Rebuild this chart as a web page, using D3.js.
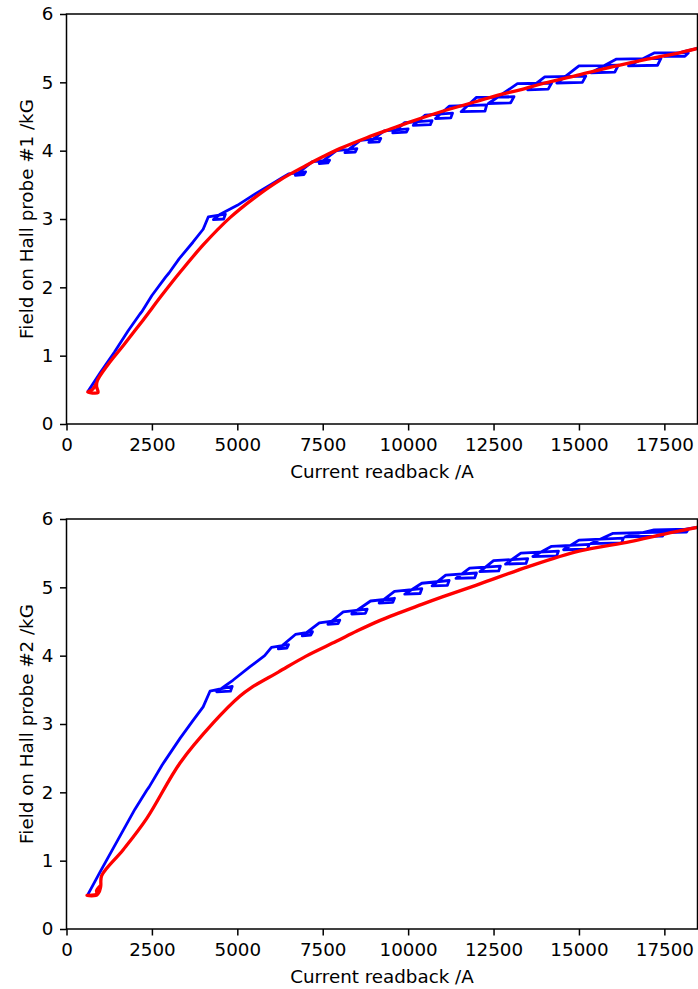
<!DOCTYPE html>
<html>
<head>
<meta charset="utf-8">
<script src="https://cdn.jsdelivr.net/npm/d3@7"></script>
<style>
  body { margin: 0; background: #fff; }
  text { font-family: "DejaVu Sans", sans-serif; }
</style>
</head>
<body>
<div id="canvas"></div>
<script>
// ticks and labels
const xTicks = [0, 2500, 5000, 7500, 10000, 12500, 15000, 17500];
const yTicks = [0, 1, 2, 3, 4, 5, 6];
const xLabel = 'Current readback /A';
const yLabels = ['Field on Hall probe #1 /kG', 'Field on Hall probe #2 /kG'];

// [current A, field kG]
const probe1Up = [
  [620,0.47],[1000,0.76],[1400,1.05],[1800,1.36],[2150,1.61],[2200,1.64],[2500,1.88],
  [2900,2.15],[3000,2.21],[3300,2.42],[3700,2.66],[4000,2.85],[4150,3.03],[4650,3.07],
  [4600,3.0],[4300,2.99],[4500,3.07],[5000,3.2],[5500,3.36],[6000,3.51],[6300,3.6],
  [6500,3.66],[7000,3.69],[6950,3.65],[6700,3.64],
  [7200,3.84],[7700,3.86],[7650,3.82],[7400,3.81],
  [7900,4.0],[8500,4.03],[8450,3.98],[8150,3.97],
  [8600,4.15],[9200,4.18],[9150,4.13],[8850,4.12],
  [9300,4.29],[10000,4.32],[9950,4.27],[9550,4.26],
  [9900,4.41],[10700,4.44],[10650,4.38],[10150,4.37],
  [10500,4.52],[11300,4.55],[11250,4.48],[10800,4.47],
  [11200,4.65],[12300,4.67],[12250,4.58],[11550,4.57],
  [12000,4.78],[13100,4.79],[13000,4.7],[12350,4.69],
  [13200,4.98],[14200,4.99],[14100,4.9],[13500,4.89],
  [14000,5.08],[15200,5.09],[15100,5.0],[14350,4.99],
  [15000,5.24],[16150,5.25],[16050,5.15],[15350,5.14],
  [16100,5.34],[17400,5.35],[17300,5.25],[16450,5.24],
  [17200,5.43],[18200,5.43],[18100,5.38],[17500,5.38],
  [18500,5.5]
];
const probe1Down = [
  [18500,5.5],[18000,5.44],[17000,5.34],[16000,5.23],[15000,5.11],[14000,4.99],[13276,4.89],
  [12690,4.82],[12000,4.72],[11030,4.58],[10000,4.41],[9500,4.32],[8788,4.19],[8000,4.03],
  [7500,3.91],[7000,3.78],[6250,3.57],[5500,3.31],[4786,3.02],[4000,2.62],[3323,2.22],[2800,1.89],
  [2240,1.52],[1663,1.15],[1200,0.86],[900,0.63],[880,0.55],[920,0.46],[620,0.47],[750,0.5],[880,0.6]
];
const probe2Up = [
  [620,0.5],[1000,0.85],[1500,1.3],[2000,1.75],[2350,2.03],[2420,2.08],[2800,2.4],
  [2880,2.46],[3323,2.79],[3700,3.05],[4000,3.25],[4200,3.48],[4850,3.55],[4800,3.48],
  [4400,3.47],[4650,3.56],[4870,3.64],[5373,3.84],[5800,4.0],
  [6000,4.12],[6500,4.16],[6450,4.11],[6200,4.1],
  [6700,4.31],[7200,4.35],[7150,4.3],[6900,4.29],
  [7400,4.48],[8000,4.52],[7950,4.47],[7650,4.46],
  [8100,4.64],[8800,4.68],[8750,4.62],[8350,4.61],
  [8900,4.8],[9600,4.84],[9550,4.78],[9150,4.77],
  [9600,4.94],[10400,4.98],[10350,4.91],[9900,4.9],
  [10400,5.06],[11200,5.1],[11150,5.03],[10700,5.02],
  [11100,5.18],[12000,5.21],[11950,5.14],[11400,5.13],
  [11800,5.28],[12700,5.31],[12650,5.24],[12100,5.23],
  [12500,5.39],[13500,5.42],[13450,5.35],[12850,5.34],
  [13300,5.5],[14400,5.53],[14350,5.46],[13650,5.45],
  [14200,5.6],[15300,5.63],[15250,5.56],[14550,5.55],
  [15000,5.69],[16300,5.72],[16250,5.65],[15350,5.64],
  [16000,5.79],[17500,5.81],[17450,5.75],[16350,5.74],
  [17200,5.84],[18200,5.85],[18150,5.81],[17500,5.8],
  [18500,5.88]
];
const probe2Down = [
  [18500,5.88],[17500,5.78],[16500,5.67],[15000,5.53],[13500,5.3],[12100,5.05],[11000,4.86],
  [10400,4.75],[9200,4.52],[8500,4.36],[7900,4.21],[7000,3.99],[6200,3.76],[5400,3.53],[5080,3.41],
  [4300,3.02],[3323,2.43],[2350,1.62],[1660,1.16],[1030,0.78],[1000,0.62],[930,0.52],[600,0.49],
  [900,0.5],[880,0.56],[1020,0.65]
];

const W = 698, H = 989;
const left = 66.5, right = 697.5, panelH = 410;
const fs = 18.3, tick = 6.5;

const Svg = d3.select('#canvas').append('svg')
  .attr('width', W)
  .attr('height', H);

const xScale = d3.scaleLinear()
  .domain([0, 18470])
  .range([left, right]);

const panel = (top, up, down, label, id) => {
  const yScale = d3.scaleLinear()
    .domain([0, 6])
    .range([top + panelH, top]);

  Svg.append('clipPath').attr('id', 'clip' + id)
    .append('rect')
    .attr('x', left).attr('y', top)
    .attr('width', right - left).attr('height', panelH);

  const line = d3.line()
    .x(d => xScale(d[0]))
    .y(d => yScale(d[1]));

  const g = Svg.append('g').attr('clip-path', `url(#clip${id})`);
  g.append('path').datum(up)
    .attr('d', line)
    .attr('fill', 'none')
    .attr('stroke', '#0000ff')
    .attr('stroke-width', 2.8)
    .attr('stroke-linejoin', 'round');
  // the down ramp is smooth
  g.append('path').datum(down)
    .attr('d', line.curve(d3.curveCatmullRom.alpha(0.5)))
    .attr('fill', 'none')
    .attr('stroke', '#ff0000')
    .attr('stroke-width', 3.3)
    .attr('stroke-linejoin', 'round');

  const xAxis = d3.axisBottom(xScale)
    .tickValues(xTicks)
    .tickSize(tick)
    .tickSizeOuter(0)
    .tickPadding(8)
    .tickFormat(d3.format('d'));
  const yAxis = d3.axisLeft(yScale)
    .tickValues(yTicks)
    .tickSize(tick)
    .tickSizeOuter(0)
    .tickPadding(6.5)
    .tickFormat(d3.format('d'));

  [Svg.append('g').attr('transform', `translate(0, ${top + panelH})`).call(xAxis),
   Svg.append('g').attr('transform', `translate(${left}, 0)`).call(yAxis)]
    .forEach(a => {
      a.select('.domain').remove();
      a.selectAll('line').attr('stroke', '#000').attr('stroke-width', 1.5);
      a.selectAll('text').attr('fill', '#000')
        .style('font-size', fs + 'px')
        .style('font-family', '"DejaVu Sans", sans-serif');
    });

  // frame
  Svg.append('rect')
    .attr('x', left).attr('y', top)
    .attr('width', right - left).attr('height', panelH)
    .attr('fill', 'none')
    .attr('stroke', '#000')
    .attr('stroke-width', 1.5);

  Svg.append('text')
    .text(xLabel)
    .attr('x', (left + right) / 2)
    .attr('y', top + panelH + 53.5)
    .attr('text-anchor', 'middle')
    .attr('font-size', fs + 'px');

  Svg.append('text')
    .text(label)
    .attr('transform', `translate(33, ${top + panelH / 2}) rotate(-90)`)
    .attr('text-anchor', 'middle')
    .attr('font-size', fs + 'px');
};

panel(14, probe1Up, probe1Down, yLabels[0], 1);
panel(519, probe2Up, probe2Down, yLabels[1], 2);
</script>
</body>
</html>
